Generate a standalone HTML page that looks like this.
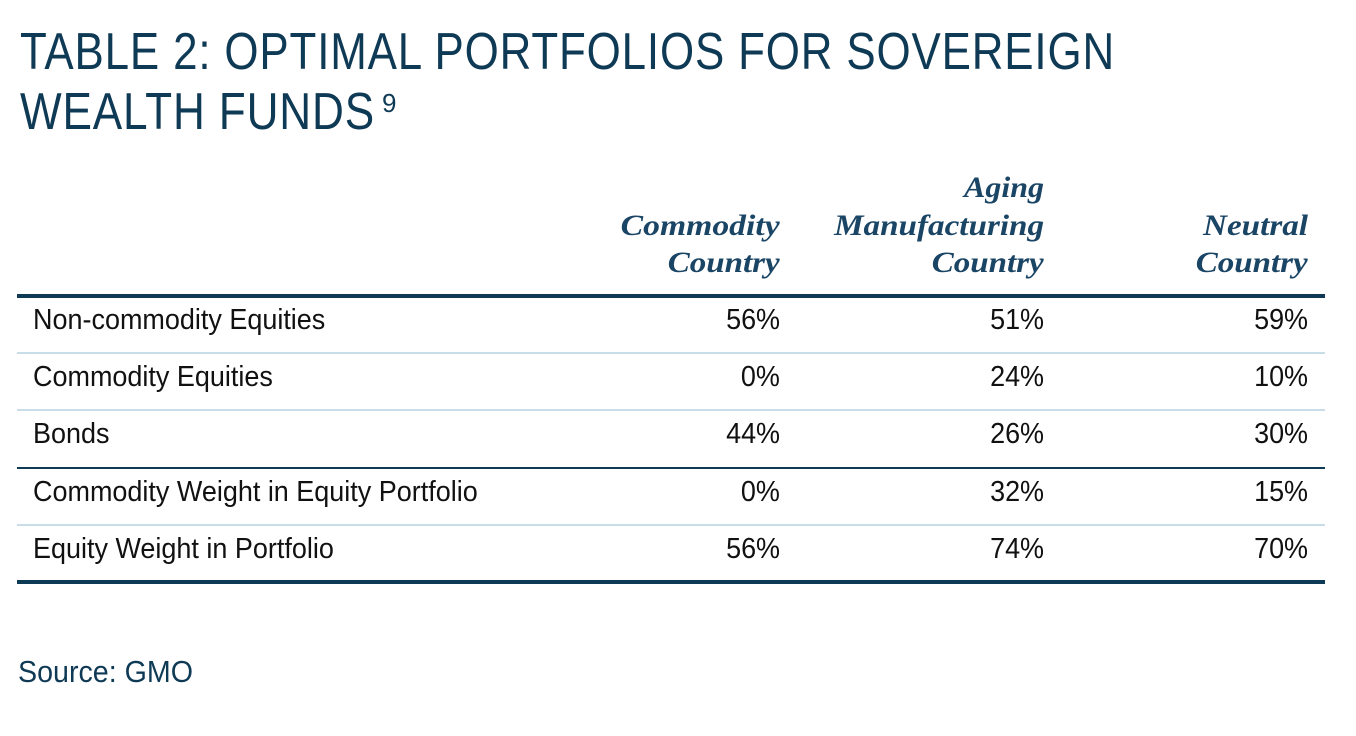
<!DOCTYPE html>
<html><head><meta charset="utf-8">
<style>
body{margin:0;width:1356px;height:736px;background:#fff;position:relative;overflow:hidden;font-family:"Liberation Sans Narrow","Liberation Sans",sans-serif;}
.t{position:absolute;white-space:nowrap;transform-origin:0 0;}
.title{color:#0f3a55;font-size:52px;font-weight:300;left:20px;letter-spacing:1px;}
.hdr{font-family:"Liberation Serif",serif;font-style:italic;font-weight:bold;color:#1b4565;font-size:30px;text-align:right;transform-origin:100% 0;}
.cell{font-size:29px;color:#111;transform:scaleX(0.93);}
.cell.r{transform-origin:100% 0;}
.line{position:absolute;left:17px;width:1308px;}
</style></head><body>
<div class="t title" data-w="1095" style="top:22px">TABLE 2: OPTIMAL PORTFOLIOS FOR SOVEREIGN</div>
<div class="t title" data-w="355" style="top:82px">WEALTH FUNDS</div>
<div class="t title" style="top:88px;left:382px;font-size:26px">9</div>
<div id="tbl"></div>
<div class="t" style="left:18px;top:654px;font-size:31px;color:#0f3a55" data-w="175">Source: GMO</div>
<script>
const columns=[["Commodity","Country"],["Aging","Manufacturing","Country"],["Neutral","Country"]];
const headerWidths={"Commodity":159,"Country":112,"Aging":80,"Manufacturing":210,"Neutral":105};
const rowLabels=["Non-commodity Equities","Commodity Equities","Bonds","Commodity Weight in Equity Portfolio","Equity Weight in Portfolio"];
const commodity=["56%","0%","44%","0%","56%"];
const aging=["51%","24%","26%","32%","74%"];
const neutral=["59%","10%","30%","15%","70%"];
const series=[commodity,aging,neutral];
const colRight=[780,1044,1308];
const tbl=document.getElementById('tbl');
function mk(cls,txt,st){const d=document.createElement('div');d.className='t '+cls;d.textContent=txt;d.setAttribute('style',st);tbl.appendChild(d);return d;}
columns.forEach((c,ci)=>{c.forEach((w,li)=>{const top=275-(c.length-1-li)*37.5-29;
const d=mk('hdr',w,'top:'+top+'px;right:'+(1356-colRight[ci])+'px;');
d.dataset.hw=headerWidths[w];

});});
const rowTop=296,rowH=57.2;
function line(y,h,col,name){const l=document.createElement('div');l.className='line';l.setAttribute('style','top:'+y+'px;height:'+h+'px;background:'+col);


tbl.appendChild(l);}
line(294,4,'#0f3a55','header-rule');
rowLabels.forEach((r,i)=>{const y=rowTop+i*rowH;
const d=mk('cell',r,'left:33px;top:'+(y+8)+'px');


series.forEach((s,ci)=>{const v=mk('cell r',s[i],'right:'+(1356-colRight[ci])+'px;top:'+(y+8)+'px');

});
if(i<rowLabels.length-1){ if(i==2) line(Math.round(y+rowH)-1,2,'#0f3a55','group-divider'); else line(Math.round(y+rowH)-1,2,'#c9dde9','row-divider');}
});
line(580,4,'#0f3a55','bottom-rule');
document.querySelectorAll('[data-w]').forEach(e=>{const w=e.getBoundingClientRect().width;e.style.transform='scaleX('+(+e.dataset.w/w)+')';});
document.querySelectorAll('[data-hw]').forEach(e=>{const w=e.getBoundingClientRect().width;e.style.transform='scaleX('+(+e.dataset.hw/w)+')';});
</script>
</body></html>
